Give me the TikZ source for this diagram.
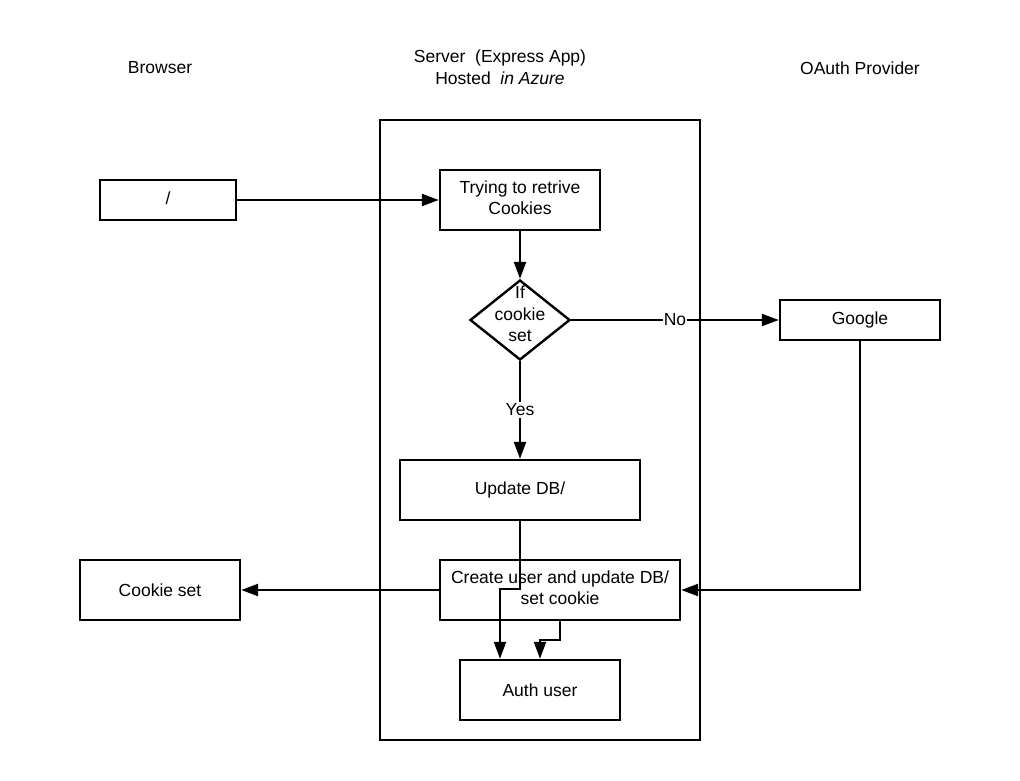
\documentclass[tikz,border=0pt]{standalone}
\usepackage{fontspec}
\setmainfont{Liberation Sans}
\usetikzlibrary{arrows.meta,shapes.geometric}
\newcommand{\fsz}{\fontsize{17.5}{21.5}\selectfont}
\begin{document}
\begin{tikzpicture}[x=1pt,y=-1pt,
  box/.style={draw, line width=2.4pt, inner sep=0pt, align=center, font=\fsz},
  lbl/.style={inner sep=0pt, align=center, font=\fsz},
  txt/.style={lbl, yshift=2.5pt},
  arr/.style={line width=2.4pt, -{Triangle[length=17pt,width=12pt]}}]
\useasboundingbox (0,0) rectangle (1020,780);
% titles
\node[lbl] (tbrowser) at (160,68) {Browser};
\node[lbl] (tserver) at (500,67) {Server\ \ (Express App)\\Hosted\ \ \textit{in Azure}};
\node[lbl] (toauth) at (860,68) {OAuth Provider};
% container
\node[draw, line width=2.4pt, minimum width=320pt, minimum height=620pt, inner sep=0pt] (server) at (540,430) {};
% boxes
\node[box, minimum width=136pt, minimum height=40pt] (root) at (168,200) {};
\node[lbl, yshift=1.5pt] (roott) at (root) {/};
\node[box, minimum width=160pt, minimum height=60pt] (try) at (520,200) {};
\node[txt] (tryt) at (try) {Trying to retrive\\Cookies};
\node[draw, line width=2.4pt, diamond, minimum width=100pt, minimum height=80pt, inner sep=0pt] (dia) at (520,320) {};
\node[lbl] (diatext) at (520,314) {If\\cookie\\set};
\node[box, minimum width=160pt, minimum height=40pt, font=\fsz] (google) at (860,320) {Google};
\node[box, minimum width=240pt, minimum height=60pt] (upd) at (520,490) {Update DB/};
\node[box, minimum width=240pt, minimum height=60pt] (cu) at (560,590) {};
\node[txt] (cut) at (cu) {Create user and update DB/\\set cookie};
\node[box, minimum width=160pt, minimum height=60pt] (cookie) at (160,590) {Cookie set};
\node[box, minimum width=160pt, minimum height=60pt] (auth) at (540,690) {Auth user};
% connectors
\draw[arr] (root.east) -- (try.west);
\draw[arr] (try.south) -- (dia.north);
\draw[arr] (dia.east) -- node[lbl, fill=white, inner sep=1pt] (no) {No} (google.west);
\draw[arr] (dia.south) -- node[lbl, fill=white, inner sep=2pt] (yes) {Yes} (upd.north);
\draw[arr] (google.south) |- (cu.east);
\draw[arr] (cu.west) -- (cookie.east);
\coordinate (e1) at (500,589);
\draw[arr] (upd.south) |- (e1) -- (e1 |- auth.north);
\coordinate (e2) at (540,640);
\draw[arr] (cu.south) |- (e2) -- (e2 |- auth.north);
\end{tikzpicture}
\end{document}
